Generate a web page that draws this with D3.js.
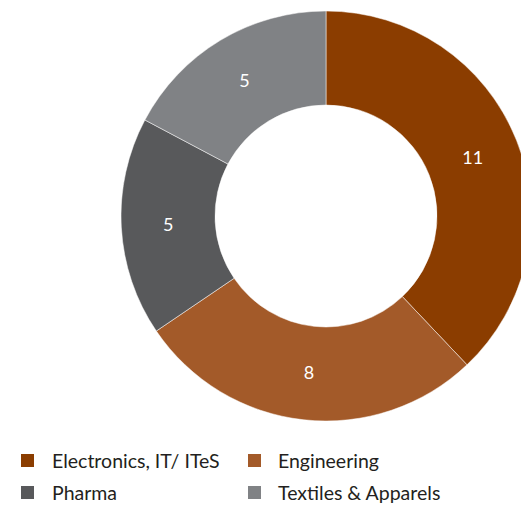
<!DOCTYPE html>
<html>
<head>
<meta charset="utf-8">
<script src="https://cdn.jsdelivr.net/npm/d3@7"></script>
<style>
  body { margin: 0; background: #fff; }
  svg { display: block; font-family: Lato, "Open Sans", sans-serif; }
</style>
</head>
<body>
<svg id="chart"></svg>
<script>
var categories = ["Electronics, IT/ ITeS", "Engineering", "Pharma", "Textiles & Apparels"];
var values = [11, 8, 5, 5];
var colors = ["#8B3D00", "#A35A29", "#58595B", "#808285"];

var width = 521, height = 505;
var cx = 326, cy = 216, outerR = 205, innerR = 111;

var svg = d3.select("#chart").attr("width", width).attr("height", height);

var pie = d3.pie().sort(null).value(function(d){ return d; });
var arc = d3.arc().innerRadius(innerR).outerRadius(outerR);
var arcs = pie(values);

var g = svg.append("g").attr("transform", "translate(" + cx + "," + cy + ")");

g.selectAll("path")
  .data(arcs)
  .enter()
  .append("path")
  .attr("d", arc)
  .attr("fill", function(d, i){ return colors[i]; })
  .attr("stroke", "#fff")
  .attr("stroke-width", 0.5);

g.selectAll("text.val")
  .data(arcs)
  .enter()
  .append("text")
  .attr("class", "val")
  .attr("transform", function(d){
    var c = arc.centroid(d);
    return "translate(" + c[0] + "," + c[1] + ")";
  })
  .attr("text-anchor", "middle")
  .attr("dy", "0.35em")
  .attr("fill", "#fff")
  .attr("font-size", "18px")
  .text(function(d){ return d.data; });

// legend
var legend = svg.append("g");
var item = legend.selectAll("g")
  .data(categories)
  .enter()
  .append("g")
  .attr("transform", function(d, i){
    return "translate(" + (i % 2 ? 248 : 21) + "," + (454 + Math.floor(i / 2) * 32) + ")";
  });
item.append("rect")
  .attr("width", 13).attr("height", 13)
  .attr("fill", function(d, i){ return colors[i]; });
item.append("text")
  .attr("x", function(d, i){ return i % 2 ? 30 : 31; })
  .attr("y", 14)
  .attr("font-size", "19.5px")
  .attr("fill", "#231f20")
  .text(function(d){ return d; });
</script>
</body>
</html>
